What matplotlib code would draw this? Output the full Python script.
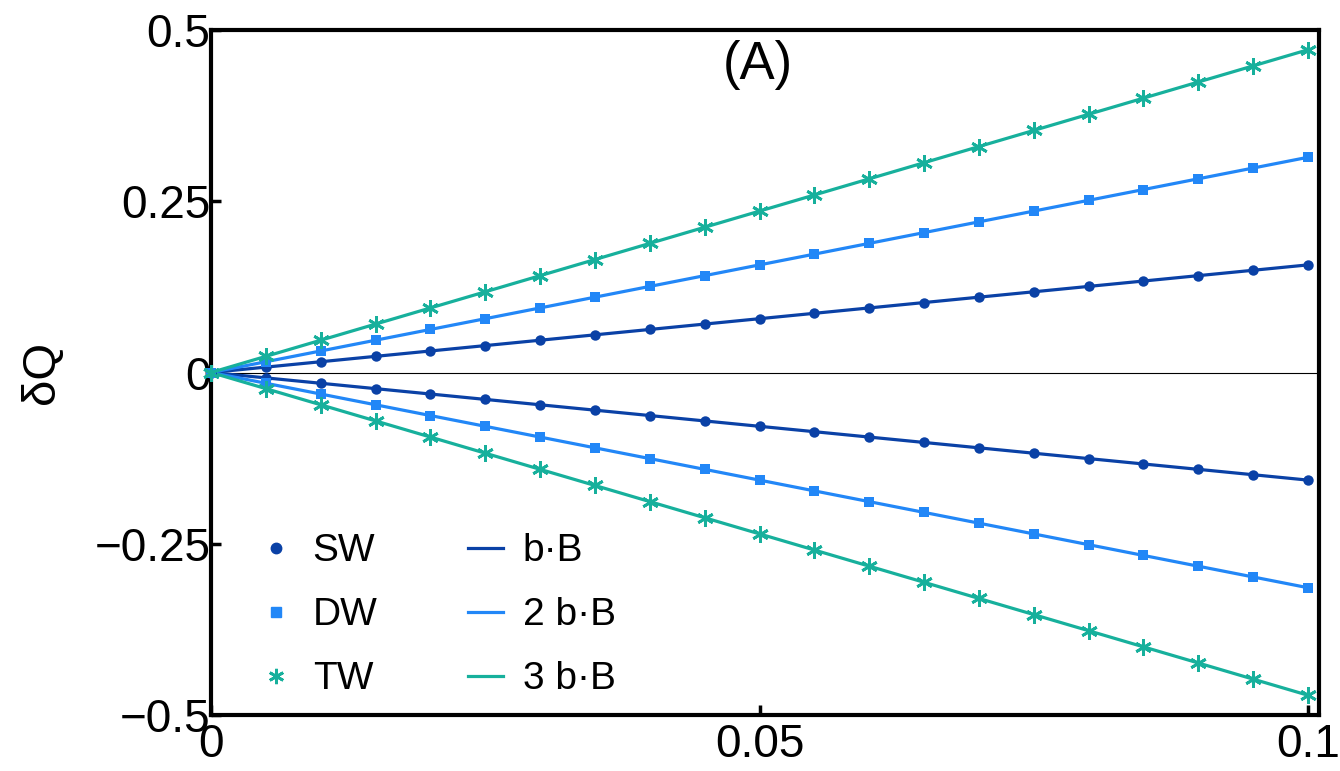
import matplotlib
matplotlib.use("Agg")
import matplotlib.pyplot as plt
from matplotlib.lines import Line2D

# ---- data ----
x = [0.0, 0.005, 0.01, 0.015, 0.02, 0.025, 0.03, 0.035, 0.04, 0.045, 0.05,
     0.055, 0.06, 0.065, 0.07, 0.075, 0.08, 0.085, 0.09, 0.095, 0.1]
sw = [0.0, 0.0079, 0.0157, 0.0236, 0.0314, 0.0393, 0.0471, 0.0550, 0.0628, 0.0707, 0.0785,
      0.0864, 0.0942, 0.1021, 0.1100, 0.1178, 0.1257, 0.1335, 0.1414, 0.1492, 0.1571]
dw = [0.0, 0.0157, 0.0314, 0.0471, 0.0628, 0.0785, 0.0942, 0.1100, 0.1257, 0.1414, 0.1571,
      0.1728, 0.1885, 0.2042, 0.2199, 0.2356, 0.2513, 0.2670, 0.2827, 0.2985, 0.3142]
tw = [0.0, 0.0236, 0.0471, 0.0707, 0.0942, 0.1178, 0.1414, 0.1649, 0.1885, 0.2121, 0.2356,
      0.2592, 0.2827, 0.3063, 0.3299, 0.3534, 0.3770, 0.4006, 0.4241, 0.4477, 0.4712]
line_x = [0.0, 0.1]
bB = [0.0, 0.1571]
bB2 = [0.0, 0.3142]
bB3 = [0.0, 0.4712]

point_labels = ["SW", "DW", "TW"]
line_labels = ["b·B", "2 b·B", "3 b·B"]
xticks = [0, 0.05, 0.1]
xtick_labels = ["0", "0.05", "0.1"]
yticks = [-0.5, -0.25, 0, 0.25, 0.5]
ytick_labels = ["\u22120.5", "\u22120.25", "0", "0.25", "0.5"]

c_sw = "#0a41a6"
c_dw = "#2287f7"
c_tw = "#17b09c"

plt.rcParams['font.family'] = ['Liberation Sans', 'DejaVu Sans']

fig = plt.figure(figsize=(13.4, 7.71), dpi=100)
ax = fig.add_axes([211/1340, 1-715/771, 1108/1340, 685/771])

ax.axhline(0, color="black", lw=0.8, zorder=1)

star = (6, 2, 0)
ms_c, ms_s, ms_t = 7.5, 7.5, 12
series = [(sw, bB, c_sw, "o", ms_c, 0), (dw, bB2, c_dw, "s", ms_s, 0), (tw, bB3, c_tw, star, ms_t, 2.0)]
for pts, ln, c, m, ms, mew in series:
    for sgn in (1, -1):
        ax.plot(line_x, [sgn * v for v in ln], color=c, lw=2.3, zorder=2)
        ax.plot(x, [sgn * v for v in pts], ls="none", marker=m, ms=ms, color=c,
                mec=c, mew=mew, zorder=3, clip_on=False)

ax.set_xlim(0, 0.101)
ax.set_ylim(-0.5, 0.5)
ax.set_xticks(xticks)
ax.set_xticklabels(xtick_labels)
ax.set_yticks(yticks)
ax.set_yticklabels(ytick_labels)
ax.tick_params(direction="in", length=7, width=2.5, labelsize=33)
ax.tick_params(axis="y", pad=0.5)
ax.tick_params(axis="x", pad=6)
for s in ax.spines.values():
    s.set_linewidth(3)

ax.set_ylabel("δQ", fontsize=34)
ax.yaxis.set_label_coords(-(211 - 64) / 1108, 0.5)
ax.text((758 - 211) / 1108, (715 - 65) / 685, "(A)", transform=ax.transAxes,
        fontsize=38, ha="center", va="center")

handles = [
    Line2D([], [], ls="none", marker="o", ms=ms_c, color=c_sw),
    Line2D([], [], ls="none", marker="s", ms=ms_s, color=c_dw),
    Line2D([], [], ls="none", marker=star, ms=ms_t - 1, mew=2, color=c_tw),
    Line2D([], [], color=c_sw, lw=2.3),
    Line2D([], [], color=c_dw, lw=2.3),
    Line2D([], [], color=c_tw, lw=2.3),
]
ax.legend(handles, point_labels + line_labels, ncol=2, frameon=False, fontsize=28,
          loc="lower left", bbox_to_anchor=(0.011, -0.025), handlelength=0.9,
          handletextpad=0.5, columnspacing=2.33, labelspacing=0.72)

fig.savefig("out.png", dpi=100)
